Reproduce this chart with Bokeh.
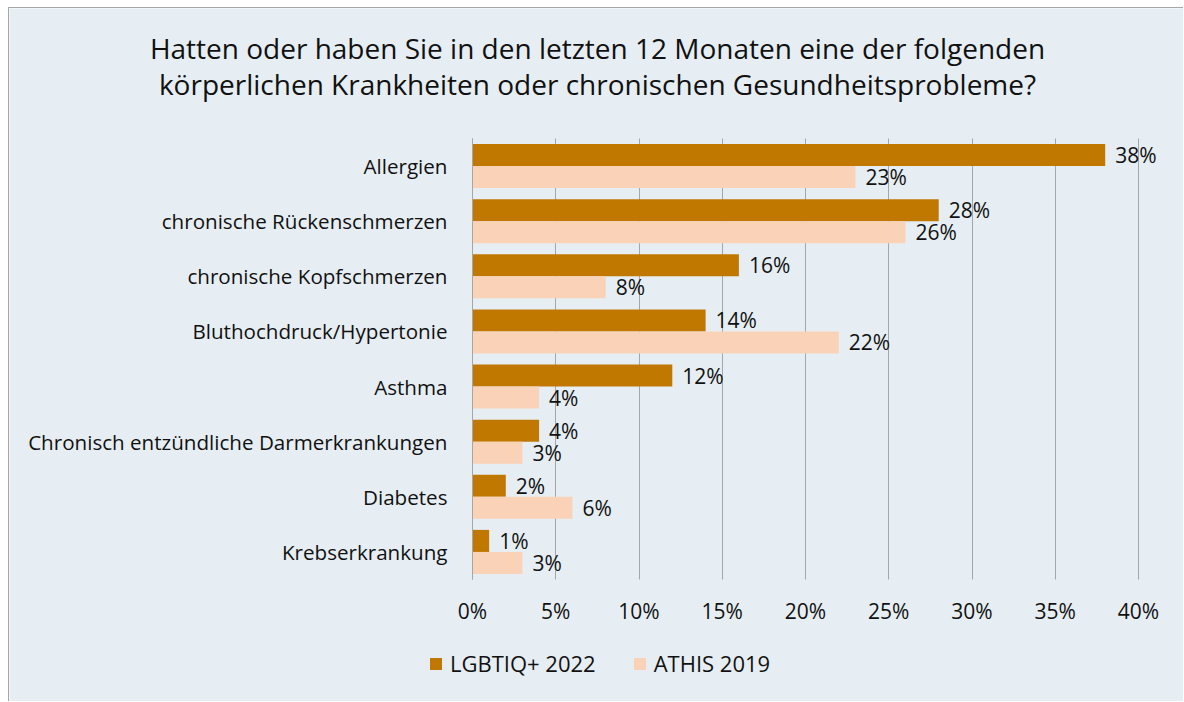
from bokeh.plotting import figure
from bokeh.models import (Range1d, ColumnDataSource, LabelSet, Label, Legend, LegendItem,
                          FixedTicker, PrintfTickFormatter)
from bokeh.core.properties import value
from bokeh.transform import dodge
from bokeh.embed import file_html
from bokeh.resources import INLINE

categories = ["Allergien", "chronische Rückenschmerzen", "chronische Kopfschmerzen",
              "Bluthochdruck/Hypertonie", "Asthma", "Chronisch entzündliche Darmerkrankungen",
              "Diabetes", "Krebserkrankung"]
lgbtiq_2022 = [38, 28, 16, 14, 12, 4, 2, 1]
athis_2019 = [23, 26, 8, 22, 4, 3, 6, 3]
series_names = ["LGBTIQ+ 2022", "ATHIS 2019"]
x_ticks = [0, 5, 10, 15, 20, 25, 30, 35, 40]
title_lines = ["Hatten oder haben Sie in den letzten 12 Monaten eine der folgenden",
               "körperlichen Krankheiten oder chronischen Gesundheitsprobleme?"]

FONT = "Open Sans"
BG = "#E6EEF3"
DARK = "#C07800"
LIGHT = "#FAD2B7"
TXT = "#111111"
GRID = "#A6A6A6"

# layout (pixels inside the canvas)
W, H = 1175, 694
X0_PX, X40_PX = 463, 1129          # canvas x of 0% and 40%
BAND_TOP_PX, BAND_BOT_PX = 130, 571  # canvas y of top/bottom of category area
n = len(categories)
px_per_unit_x = (X40_PX - X0_PX) / 40.0
band_px = (BAND_BOT_PX - BAND_TOP_PX) / n
x_start = -X0_PX / px_per_unit_x
x_end = (W - X0_PX) / px_per_unit_x
y_start = -0.5 - (H - BAND_BOT_PX) / band_px
y_end = n - 0.5 + BAND_TOP_PX / band_px

ypos = list(range(n))[::-1]

src = ColumnDataSource(dict(
    y=ypos,
    a=lgbtiq_2022,
    b=athis_2019,
    la=[f"{v}%" for v in lgbtiq_2022],
    lb=[f"{v}%" for v in athis_2019],
))

p = figure(width=W, height=H, output_backend="svg", toolbar_location=None,
           x_range=Range1d(x_start, x_end), y_range=Range1d(y_start, y_end),
           min_border=0, min_border_left=0, min_border_right=0, min_border_top=0,
           min_border_bottom=0)
p.styles = {"margin-left": "8px", "margin-top": "7px",
            "border-left": "1px solid #A6A6A6", "border-top": "1px solid #A6A6A6"}
p.background_fill_color = BG
p.border_fill_color = BG
p.outline_line_color = None

ra = p.hbar(y=dodge("y", 0.2), right="a", left=0, height=0.4,
            source=src, fill_color=DARK, line_color=None)
rb = p.hbar(y=dodge("y", -0.2), right="b", left=0, height=0.4,
            source=src, fill_color=LIGHT, line_color=None)

for col, lab, off in (("a", "la", 0.2), ("b", "lb", -0.2)):
    p.add_layout(LabelSet(x=col, y=dodge("y", off), text=lab, source=src,
                          x_offset=10, text_baseline="middle", text_font=value(FONT),
                          text_font_size="21px", text_color=TXT))

xa = p.xaxis[0]
xa.fixed_location = -0.5
xa.ticker = FixedTicker(ticks=x_ticks)
xa.formatter = PrintfTickFormatter(format="%d%%")
xa.axis_line_color = None
xa.major_tick_line_color = None
xa.minor_tick_line_color = None
xa.major_label_standoff = 11
xa.major_label_text_font = FONT
xa.major_label_text_font_size = "21px"
xa.major_label_text_color = TXT

ya = p.yaxis[0]
ya.fixed_location = 0
ya.bounds = (-0.5, n - 0.5)
ya.ticker = FixedTicker(ticks=ypos)
ya.major_label_overrides = {yv: c for yv, c in zip(ypos, categories)}
ya.axis_line_color = GRID
ya.axis_line_width = 1
ya.major_tick_line_color = None
ya.minor_tick_line_color = None
ya.major_label_standoff = 19
ya.major_label_text_font = FONT
ya.major_label_text_font_size = "20.6px"
ya.major_label_text_color = TXT

p.xgrid.grid_line_color = GRID
p.xgrid.cross_bounds = (-0.5, n - 0.5)
p.ygrid.grid_line_color = None

for t, ty in zip(title_lines, (39, 75)):
    p.add_layout(Label(x=588, y=H - ty, x_units="screen", y_units="screen", text=t,
                       text_align="center", text_baseline="middle", text_font=FONT,
                       text_font_size="28px", text_color=TXT))

legend = Legend(items=[LegendItem(label=series_names[0], renderers=[ra]),
                       LegendItem(label=series_names[1], renderers=[rb])],
                location=(419, 24), orientation="horizontal",
                background_fill_alpha=0, border_line_color=None,
                label_text_font=FONT, label_text_font_size="22px", label_text_color=TXT,
                glyph_width=15, glyph_height=15, label_standoff=7, spacing=36,
                padding=0, margin=0)
p.add_layout(legend, "center")

open("out.html", "w").write(file_html(p, INLINE))
